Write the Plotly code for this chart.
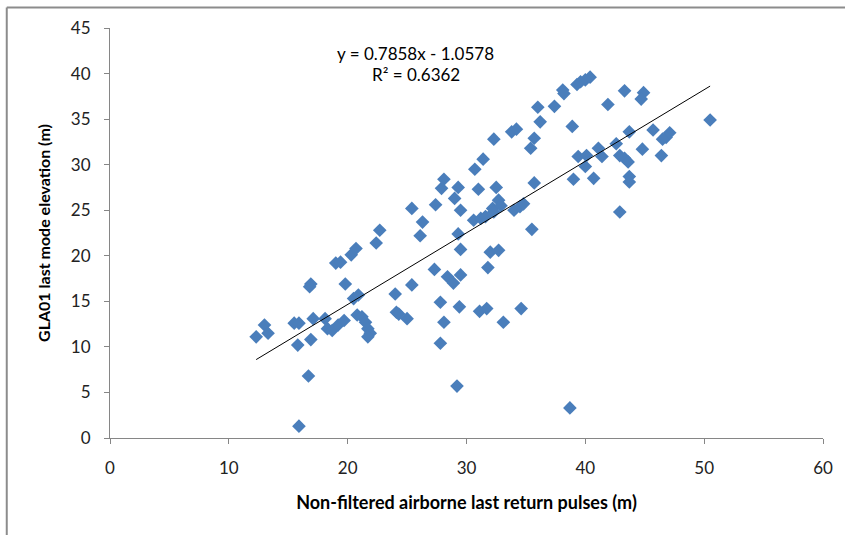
import plotly.graph_objects as go

# Data
x_vals = [
    12.3, 13.0, 13.3, 15.5, 15.9, 15.8, 15.9, 16.7, 16.9, 16.8, 16.9, 17.1, 18.1, 18.3, 18.7,
    19.2, 19.7, 19.0, 19.4, 19.8, 20.3, 20.7, 20.5, 20.9, 20.8, 21.2, 21.5, 21.7, 21.9, 21.7,
    22.4, 22.7,
    24.0, 24.1, 24.3, 25.0, 25.4, 25.4, 26.3, 26.1, 27.4, 28.1, 27.9, 29.3, 29.0, 29.5, 29.3,
    29.5, 31.0, 31.4, 30.7, 30.6, 31.2, 31.6, 32.5, 32.2, 32.7, 32.9, 32.3, 32.0, 32.7, 31.8,
    34.0, 34.5, 34.8, 35.7, 35.5, 39.0, 27.3, 28.4, 28.9, 29.5, 27.8, 29.4, 31.1, 31.7, 34.6,
    33.1, 28.1, 27.8, 29.2, 38.7, 32.3, 33.8, 34.2,
    40.4, 40.0, 39.6, 39.3, 38.1, 38.2, 36.0, 37.4, 36.2, 38.9, 35.7, 35.4, 41.9, 43.3, 44.9,
    44.7, 43.7, 45.7, 47.1, 46.8, 46.5, 50.5, 44.8, 46.4, 41.1, 41.4, 42.6, 42.9, 43.3, 43.6,
    39.4, 40.1, 40.0, 40.7, 43.7, 43.7, 42.9,
]
y_vals = [
    11.1, 12.4, 11.5, 12.6, 12.6, 10.2, 1.3, 6.8, 16.9, 16.6, 10.8, 13.1, 13.1, 12.0, 11.8,
    12.4, 12.9, 19.2, 19.3, 16.9, 20.1, 20.8, 15.3, 15.7, 13.5, 13.3, 12.7, 12.0, 11.5, 11.1,
    21.4, 22.8,
    15.8, 13.8, 13.6, 13.1, 16.8, 25.2, 23.7, 22.2, 25.6, 28.4, 27.4, 27.5, 26.3, 25.0, 22.4,
    20.7, 27.3, 30.6, 29.5, 23.9, 24.1, 24.3, 27.5, 25.2, 26.1, 25.5, 24.8, 20.4, 20.6, 18.7,
    25.0, 25.4, 25.7, 28.0, 22.9, 28.4, 18.5, 17.7, 17.0, 17.9, 14.9, 14.4, 13.9, 14.2, 14.2,
    12.7, 12.7, 10.4, 5.7, 3.3, 32.8, 33.6, 33.9,
    39.6, 39.3, 39.1, 38.8, 38.2, 37.8, 36.3, 36.4, 34.7, 34.2, 32.9, 31.8, 36.6, 38.1, 37.9,
    37.2, 33.6, 33.8, 33.5, 33.0, 32.8, 34.9, 31.7, 31.0, 31.8, 30.9, 32.3, 31.0, 30.7, 30.3,
    30.9, 31.0, 29.8, 28.5, 28.7, 28.1, 24.8,
]

slope = 0.7858
intercept = -1.0578
eq_text = "y = 0.7858x - 1.0578"
r2_text = "R² = 0.6362"
x_title = "Non-filtered airborne last return pulses (m)"
y_title = "GLA01 last mode elevation (m)"

x_ticks = [0, 10, 20, 30, 40, 50, 60]
y_ticks = [0, 5, 10, 15, 20, 25, 30, 35, 40, 45]

line_x = [min(x_vals), max(x_vals)]
line_y = [slope * v + intercept for v in line_x]

FONT = "Lato"
AX = "#868686"

fig = go.Figure()
fig.add_trace(go.Scatter(
    x=x_vals, y=y_vals, mode="markers",
    marker=dict(symbol="diamond", size=10.5, color="#4A7EBB",
                line=dict(width=0)),
    showlegend=False, hoverinfo="skip",
))
fig.add_trace(go.Scatter(
    x=line_x, y=line_y, mode="lines",
    line=dict(color="#000000", width=1),
    showlegend=False, hoverinfo="skip",
))

fig.add_annotation(x=0.429, y=0.938, xref="paper", yref="paper", text=eq_text,
                   showarrow=False, font=dict(family=FONT, size=17, color="#000"),
                   xanchor="center", yanchor="middle")
fig.add_annotation(x=0.429, y=0.887, xref="paper", yref="paper", text=r2_text,
                   showarrow=False, font=dict(family=FONT, size=17, color="#000"),
                   xanchor="center", yanchor="middle")

# chart-area border (only top and left edges visible in the frame)
fig.add_shape(type="line", xref="paper", yref="paper",
              x0=-0.1448, x1=1.2, y0=1.050, y1=1.050,
              line=dict(color="#8c8c8c", width=2))
fig.add_shape(type="line", xref="paper", yref="paper",
              x0=-0.1448, x1=-0.1448, y0=1.050, y1=-0.3,
              line=dict(color="#8c8c8c", width=2))

fig.update_layout(
    width=845, height=535,
    margin=dict(l=110, r=17, t=28, b=97),
    paper_bgcolor="white", plot_bgcolor="white",
    font=dict(family=FONT, size=16, color="#000"),
    xaxis=dict(range=[0, 60], tickvals=x_ticks, showgrid=False, zeroline=False,
               showline=True, linecolor=AX, linewidth=1,
               ticks="outside", ticklen=5, tickcolor=AX, tickwidth=1,
               ticklabelstandoff=10,
               tickfont=dict(family=FONT, size=17, color="#222"),
               title=dict(text="<b>" + x_title + "</b>", standoff=18,
                          font=dict(family=FONT, size=18, color="#000"))),
    yaxis=dict(range=[0, 45], tickvals=y_ticks, showgrid=False, zeroline=False,
               showline=True, linecolor=AX, linewidth=1,
               ticks="outside", ticklen=5, tickcolor=AX, tickwidth=1,
               ticklabelstandoff=10,
               tickfont=dict(family=FONT, size=17, color="#222"),
               title=dict(text="<b>" + y_title + "</b>", standoff=16,
                          font=dict(family=FONT, size=16, color="#000"))),
)

fig.write_html("out.html", config={"displayModeBar": False},
               post_script="document.body.style.margin='0px';")
